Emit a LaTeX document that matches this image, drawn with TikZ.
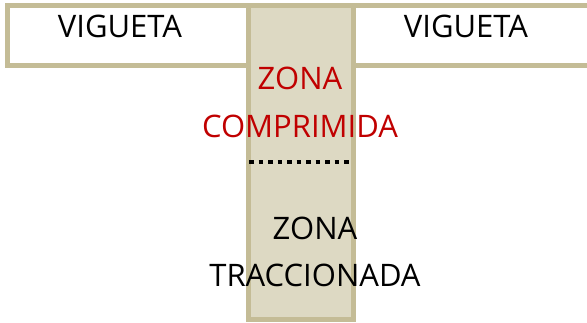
\documentclass[tikz,border=0pt]{standalone}
\usepackage{fontspec}
\setmainfont{Open Sans}
\definecolor{tanline}{HTML}{C4BC96}
\definecolor{tanfill}{HTML}{DDD9C3}
\definecolor{redtxt}{HTML}{C00000}
\begin{document}
\begin{tikzpicture}[x=1pt,y=-1pt,
  flange/.style={draw=tanline,line width=5pt,fill=white},
  web/.style={draw=tanline,line width=5pt,fill=tanfill},
  lbl/.style={font=\fontsize{31}{36}\selectfont,inner sep=0pt,anchor=center}]
\useasboundingbox (0,0) rectangle (587,322);
\draw[flange] (7,5) rectangle (248,65);
\draw[flange] (352,5) rectangle (600,65);
\draw[web] (248,5) rectangle (353,319);
\coordinate (dl) at (249,162);
\coordinate (dr) at (353,162);
\draw[line width=4.5pt,dash pattern=on 4.5pt off 5pt] (dl) -- (dr);
\node[lbl] (v1) at (120,26) {VIGUETA};
\node[lbl] (v2) at (466,26) {VIGUETA};
\node[lbl,text=redtxt] (z1) at (300,78) {ZONA};
\node[lbl,text=redtxt] (c1) at (300,126) {COMPRIMIDA};
\node[lbl] (z2) at (315,228) {ZONA};
\node[lbl] (t1) at (315,275) {TRACCIONADA};
\end{tikzpicture}
\end{document}
